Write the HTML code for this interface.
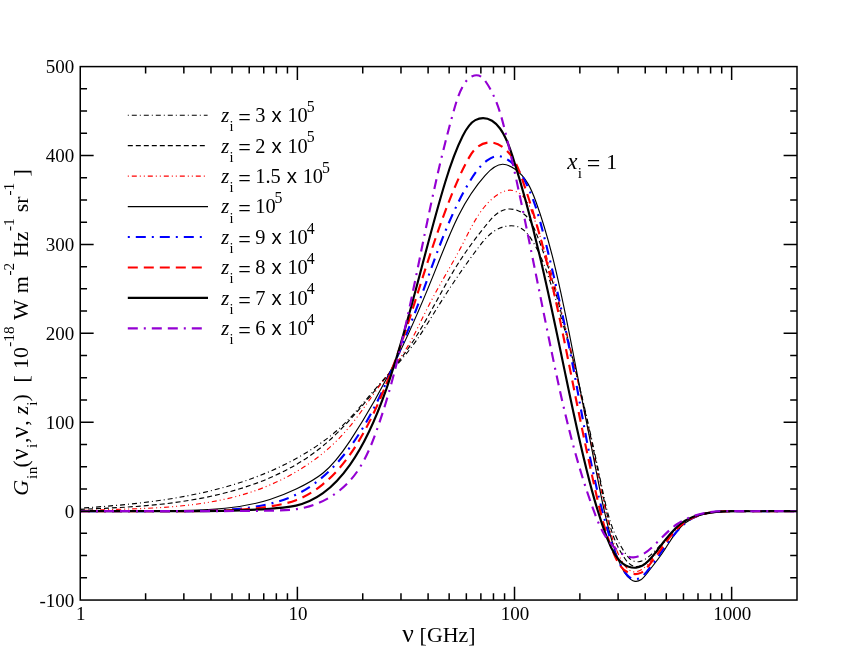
<!DOCTYPE html>
<html><head><meta charset="utf-8"><title>G_in</title>
<style>html,body{margin:0;padding:0;background:#fff;}svg{display:block;will-change:transform;}text{font-family:"Liberation Serif",serif;}</style></head>
<body>
<svg width="864" height="667" viewBox="0 0 864 667">
<rect width="864" height="667" fill="#fff"/>
<defs><clipPath id="cp"><rect x="80.25" y="66.6" width="716.75" height="533.45"/></clipPath></defs>
<g fill="none" clip-path="url(#cp)" stroke-linejoin="round">
<path d="M80.18 508.16C163.92 502.74 253.49 491.94 323.41 441.25C328.52 437.54 333.53 433.62 338.23 429.45C352.21 417.05 363.44 402.48 375.62 388.53C387.63 374.77 400.56 361.61 411.6 347.01C421.57 333.83 430 319.46 438.74 305.45C450.89 285.97 463.64 267.19 477.63 248.54C483.85 240.24 490.32 231.97 499.96 228.05C506.05 225.57 513.41 224.83 519.08 227.2C524.58 229.5 528.51 234.72 531.92 240.13C541.15 254.78 546.65 270.82 551.8 286.95C572.53 351.89 587.58 418.32 601.5 485.24C606.46 509.08 611.28 532.97 625.48 553.56C627.2 556.06 629.06 558.51 631.51 560.02C633.62 561.33 636.18 561.93 638.61 561.72C643.55 561.3 647.98 557.54 651.91 553.8C660.06 546.04 666.07 538.35 673.81 530.63C677.22 527.21 680.97 523.79 684.99 521.12C695.43 514.18 707.7 512.29 720 511.52C732.88 510.73 745.78 511.17 758.67 511.22C771.45 511.27 784.21 510.94 797 511.18" stroke="#000" stroke-width="1.15" stroke-dasharray="1 3 5 3"/>
<path d="M79.88 509.36C107.45 508.21 133.99 507.16 160.86 504.24C218.8 497.93 278.26 482.9 323.1 445.77C343.05 429.25 360.11 408.37 376.77 388.35C388.16 374.67 399.37 361.4 409.3 346.93C427.23 320.79 440.98 290.72 457.99 263.79C467.06 249.44 477.05 235.98 488.22 222.56C491.72 218.35 495.34 214.15 499.97 211.58C502.97 209.92 506.4 208.95 509.88 208.97C515.92 208.99 522.1 212 526.43 216.26C530.89 220.63 533.39 226.32 535.74 232.07C544.67 253.96 551.37 276.68 557.61 299.49C575.74 365.72 590 432.61 604.02 499.99C608.21 520.16 612.39 540.37 624.33 557.76C627.49 562.37 631.2 566.77 636.52 566.6C638.9 566.52 641.6 565.53 643.84 564.28C646.78 562.64 648.92 560.54 651.01 558.28C661.9 546.51 671.42 530.35 685.06 521.54C695.2 514.99 707.62 512.52 719.99 511.56C732.91 510.55 745.78 511.19 758.66 511.26C771.44 511.33 784.23 510.84 797 511.19" stroke="#000" stroke-width="1.15" stroke-dasharray="5 3"/>
<path d="M80.2 510.6C136.68 508.17 196.59 510.05 251.18 492.03C287.45 480.06 321.37 459.31 346.48 430.37C357.89 417.22 367.48 402.38 377.77 388.28C387.79 374.56 398.48 361.54 407.22 347.09C415.27 333.79 421.67 319.29 428.78 305.4C439.52 284.43 451.87 264.87 462.81 243.75C472.18 225.65 480.52 206.39 497.53 194.79C499.33 193.57 501.22 192.43 503.2 191.6C505.42 190.68 507.74 190.15 510.06 190.19C514.57 190.27 519.04 192.54 522.43 195.66C527.79 200.6 530.39 207.71 532.89 214.79C542.68 242.57 550.79 270.11 558.07 297.99C567.56 334.28 575.65 371.15 583.5 408.02C591.47 445.46 599.2 482.91 607.72 519.95C610.68 532.84 613.74 545.67 620.33 558.27C623.78 564.87 628.2 571.4 633.83 571.89C638.48 572.29 643.95 568.59 648.13 564.04C651.08 560.83 653.39 557.2 655.73 553.82C660.34 547.17 665.07 541.51 670.38 535.65C676.75 528.64 683.96 521.34 692.49 517.3C697.6 514.87 703.2 513.62 708.82 512.76C725.26 510.27 742.02 511.17 758.68 511.25C771.46 511.31 784.19 510.88 797 511.18" stroke="#f00" stroke-width="1.15" stroke-dasharray="1 3 5 3 1 3"/>
<path d="M79.99 510.98C113.07 511.04 145.93 511.12 179.01 510.52C209.76 509.95 240.7 508.79 269.88 499.45C278.8 496.59 287.57 492.97 296.18 488.92C305.73 484.44 315.09 479.45 323.08 472.95C333.9 464.16 342.2 452.61 350.05 440.81C386.77 385.6 413.67 325.03 437.89 263.89C450.22 232.76 461.85 201.49 485.21 175.34C490.34 169.6 496.03 164.1 502.8 164.27C506.77 164.37 511.11 166.42 514.81 168.98C526.3 176.9 531.59 189.64 536.22 202.44C543.32 222.09 548.86 241.86 553.79 261.8C563.1 299.44 570.24 337.67 577.52 375.97C585.15 416.1 592.93 456.3 601.07 495.92C605.5 517.49 610.04 538.88 618.5 560.4C621.42 567.83 624.8 575.28 630.62 579.36C631.98 580.32 633.48 581.09 635.03 581.32C636.99 581.62 639.05 581.06 640.89 579.84C643.34 578.22 645.41 575.44 647.41 572.84C653 565.55 657.99 559.65 662.61 552.78C669.39 542.71 675.39 530.56 685.06 523C689.55 519.49 694.84 516.97 700.27 515.18C715.92 510.04 732.75 511.03 749.36 511.22C765.29 511.4 781.02 510.83 797.01 511.2" stroke="#000" stroke-width="1.15"/>
<path d="M80.01 511.2C115.93 510.89 152.07 511.46 187.99 511.07C205.98 510.87 223.92 510.43 241.97 508.44C260.58 506.38 279.3 502.67 295.83 494.78C323.66 481.5 345.26 456.4 361.86 429.54C378.14 403.2 389.61 375.18 401.22 346.81C406.8 333.18 412.41 319.47 417.66 305.65C433.71 263.43 446.41 220.2 469.81 181.3C474.62 173.31 479.89 165.5 487.64 160.1C491.02 157.74 494.88 155.84 498.73 156.06C501.2 156.21 503.66 157.23 505.92 158.51C514.57 163.4 520.27 172.05 524.93 181.01C534.31 199.05 539.49 218.32 544.39 237.67C556.18 284.2 566.38 331.21 575.27 378.5C585.54 433.1 594.07 488.07 610.95 540.91C614.23 551.16 617.81 561.32 623.96 570.8C625.52 573.21 627.24 575.58 629.36 577.1C632.41 579.29 636.29 579.74 639.63 578.1C642.14 576.87 644.35 574.47 646.4 572.08C655.39 561.61 661.43 551.44 669.17 540.98C675.68 532.17 683.4 523.17 692.79 518.06C701 513.6 710.49 512.12 719.99 511.49C729.77 510.85 739.55 511.1 749.34 511.18C765.23 511.31 781.1 510.97 797 511.17" stroke="#00f" stroke-width="2.15" stroke-dasharray="2 6 10 6"/>
<path d="M80 511.16C113.01 511.12 145.99 511.19 179 511.14C209.41 511.09 239.83 510.95 269.99 506.38C278.86 505.04 287.71 503.32 296.06 500.16C305.73 496.5 314.73 490.92 322.79 484.35C340.79 469.71 354.16 450.2 365.22 429.77C372.49 416.34 378.75 402.52 384.51 388.49C412.05 321.37 427.93 249.47 456.67 182.8C460.36 174.24 464.26 165.77 469.01 157.59C470.75 154.61 472.6 151.66 475.02 149.21C479.03 145.15 484.61 142.48 490 142.47C498.32 142.45 506.17 148.8 511.46 156.14C515.97 162.4 518.62 169.39 521.15 176.41C546.36 246.26 559.99 319.35 574.65 392.38C581.16 424.76 587.87 457.13 595.03 488.9C599.64 509.33 604.43 529.5 612.53 550.36C616.01 559.35 620.11 568.46 627.7 572.3C631.7 574.32 636.66 574.87 640.74 572.9C643.85 571.4 646.45 568.42 648.87 565.45C654.37 558.71 658.99 551.98 663.89 545.16C670.02 536.61 676.57 527.91 685.14 522.06C689.76 518.92 694.96 516.6 700.3 514.95C715.98 510.09 732.78 511.05 749.36 511.22C765.29 511.39 781.02 510.84 797.01 511.19" stroke="#f00" stroke-width="2.15" stroke-dasharray="10 6"/>
<path d="M80 511.14C113.01 511.19 145.99 511.13 179 511.14C213.71 511.15 248.44 511.24 282.99 507.57C287.37 507.1 291.74 506.58 296.03 505.61C305.68 503.42 314.89 498.99 323 493.18C333.64 485.54 342.39 475.52 349.94 464.87C366.39 441.64 377.17 415.42 386.51 388.67C410.14 320.99 424.53 249.96 445.27 181.98C449.98 166.56 455.01 151.29 462.7 136C465.95 129.54 469.68 123.06 475.3 120.11C480.31 117.48 486.82 117.65 492.01 120.71C495.13 122.55 497.78 125.45 500.03 128.51C506.19 136.88 509.41 146.53 512.49 156.19C535.5 228.45 550.45 302.02 565.75 376.08C573.72 414.66 581.79 453.37 592.03 490.89C596.39 506.88 601.15 522.65 607.41 538.94C611.05 548.43 615.2 558.09 622.86 563.61C626.75 566.4 631.53 568.13 636.1 567.68C638.18 567.48 640.21 566.82 642.11 565.82C647.86 562.8 652.46 556.63 656.69 551.04C659.14 547.8 661.46 544.75 663.85 541.68C669.98 533.83 676.56 525.81 685.06 520.67C689.69 517.86 694.9 515.91 700.19 514.51C716.14 510.28 732.81 511.06 749.35 511.21C765.26 511.35 781.05 510.9 797.01 511.19" stroke="#000" stroke-width="2.15"/>
<path d="M80 511.16C121.98 511.1 164.02 511.21 206 511.13C227.33 511.09 248.64 511 270.07 510.66C281.84 510.47 293.66 510.21 305.02 507.49C322.33 503.34 338.59 493.5 350.37 480.24C362.81 466.24 370.24 448.43 376.66 430.49C386.52 402.95 393.98 375.1 400.64 346.99C410.4 305.81 418.42 264.09 427.1 222.47C435.18 183.79 443.83 145.2 454.7 107.57C456.77 100.4 458.92 93.26 462.8 86.29C465.16 82.03 468.17 77.84 472.2 76.14C475.05 74.94 478.41 74.99 480.99 76.55C482.83 77.67 484.27 79.57 485.61 81.51C496.34 96.97 501.14 115.04 505.57 133.1C513.2 164.13 519.75 195.1 526.14 226.23C533.98 264.41 541.58 302.82 549.41 341.06C561.11 398.2 573.35 454.95 593.57 510.24C598.91 524.83 604.8 539.32 616.61 549.56C621.6 553.89 627.66 557.46 633.58 557.31C641.35 557.12 648.86 550.51 655.45 544.06C663.04 536.62 669.4 529.39 677.29 523.99C686.71 517.56 698.32 513.74 710.02 512.15C719.97 510.8 729.99 511.06 740 511.16C759.01 511.35 777.99 510.94 797 511.18" stroke="#9400d3" stroke-width="2.15" stroke-dasharray="10 6 2 6 10 6"/>
</g>
<path d="M145.61 600.05v-6.8M145.61 66.6v6.8M183.85 600.05v-6.8M183.85 66.6v6.8M210.97 600.05v-6.8M210.97 66.6v6.8M232.02 600.05v-6.8M232.02 66.6v6.8M249.21 600.05v-6.8M249.21 66.6v6.8M263.75 600.05v-6.8M263.75 66.6v6.8M276.34 600.05v-6.8M276.34 66.6v6.8M287.44 600.05v-6.8M287.44 66.6v6.8M297.38 600.05v-13.4M297.38 66.6v13.4M362.74 600.05v-6.8M362.74 66.6v6.8M400.98 600.05v-6.8M400.98 66.6v6.8M428.1 600.05v-6.8M428.1 66.6v6.8M449.15 600.05v-6.8M449.15 66.6v6.8M466.34 600.05v-6.8M466.34 66.6v6.8M480.87 600.05v-6.8M480.87 66.6v6.8M493.47 600.05v-6.8M493.47 66.6v6.8M504.57 600.05v-6.8M504.57 66.6v6.8M514.51 600.05v-13.4M514.51 66.6v13.4M579.87 600.05v-6.8M579.87 66.6v6.8M618.11 600.05v-6.8M618.11 66.6v6.8M645.23 600.05v-6.8M645.23 66.6v6.8M666.28 600.05v-6.8M666.28 66.6v6.8M683.47 600.05v-6.8M683.47 66.6v6.8M698 600.05v-6.8M698 66.6v6.8M710.6 600.05v-6.8M710.6 66.6v6.8M721.7 600.05v-6.8M721.7 66.6v6.8M731.64 600.05v-13.4M731.64 66.6v13.4M80.25 577.82h6.8M797 577.82h-6.8M80.25 555.6h6.8M797 555.6h-6.8M80.25 533.37h6.8M797 533.37h-6.8M80.25 511.14h13.4M797 511.14h-13.4M80.25 488.91h6.8M797 488.91h-6.8M80.25 466.69h6.8M797 466.69h-6.8M80.25 444.46h6.8M797 444.46h-6.8M80.25 422.23h13.4M797 422.23h-13.4M80.25 400.01h6.8M797 400.01h-6.8M80.25 377.78h6.8M797 377.78h-6.8M80.25 355.55h6.8M797 355.55h-6.8M80.25 333.32h13.4M797 333.32h-13.4M80.25 311.1h6.8M797 311.1h-6.8M80.25 288.87h6.8M797 288.87h-6.8M80.25 266.64h6.8M797 266.64h-6.8M80.25 244.42h13.4M797 244.42h-13.4M80.25 222.19h6.8M797 222.19h-6.8M80.25 199.96h6.8M797 199.96h-6.8M80.25 177.74h6.8M797 177.74h-6.8M80.25 155.51h13.4M797 155.51h-13.4M80.25 133.28h6.8M797 133.28h-6.8M80.25 111.05h6.8M797 111.05h-6.8M80.25 88.83h6.8M797 88.83h-6.8" stroke="#000" stroke-width="1.5" fill="none"/>
<rect x="80.25" y="66.6" width="716.75" height="533.45" fill="none" stroke="#000" stroke-width="1.5"/>
<g font-family="Liberation Serif, serif" font-size="19" fill="#000">
<text x="74.3" y="606.65" text-anchor="end">-100</text>
<text x="74.3" y="517.74" text-anchor="end">0</text>
<text x="74.3" y="428.83" text-anchor="end">100</text>
<text x="74.3" y="339.93" text-anchor="end">200</text>
<text x="74.3" y="251.02" text-anchor="end">300</text>
<text x="74.3" y="162.11" text-anchor="end">400</text>
<text x="74.3" y="73.2" text-anchor="end">500</text>
<text x="80.75" y="620.4" text-anchor="middle">1</text>
<text x="297.88" y="620.4" text-anchor="middle">10</text>
<text x="515.01" y="620.4" text-anchor="middle">100</text>
<text x="732.14" y="620.4" text-anchor="middle">1000</text>
</g>
<g font-family="Liberation Serif, serif" font-size="21.9" fill="#000">
<text y="642"><tspan x="402.3" font-size="25.6">ν</tspan><tspan x="419.6">[GHz]</tspan></text>
<text transform="translate(28.2 495.2) rotate(-90)"><tspan x="-0.68" y="0" font-style="italic">G</tspan><tspan x="16.15" y="8.3" font-size="15.3">i</tspan><tspan x="21.03" y="8.3" font-size="15.3">n</tspan><tspan x="27.78" y="0">(</tspan><tspan x="35.2" y="0" font-size="25.3">ν</tspan><tspan x="47.15" y="8.3" font-size="15.3">i</tspan><tspan x="52.18" y="0">,</tspan><tspan x="57.25" y="0" font-size="25.3">ν</tspan><tspan x="69.5" y="0">,</tspan><tspan x="80.75" y="0" font-style="italic">z</tspan><tspan x="89.38" y="8.3" font-size="15.3">i</tspan><tspan x="93.63" y="0">)</tspan><tspan x="112.68" y="0">[</tspan><tspan x="126.18" y="0">10</tspan><tspan x="148.48" y="-13.8" font-size="15.3">-18</tspan><tspan x="175.18" y="0">W</tspan><tspan x="202" y="0">m</tspan><tspan x="219.7" y="-13.8" font-size="15.3">-2</tspan><tspan x="238.08" y="0">Hz</tspan><tspan x="264.18" y="-13.8" font-size="15.3">-1</tspan><tspan x="283.05" y="0">sr</tspan><tspan x="299.63" y="-13.8" font-size="15.3">-1</tspan><tspan x="318.68" y="0">]</tspan></text>
</g>
<g font-family="Liberation Serif, serif" font-size="20.4" fill="#000">
<path d="M127.8 115.2H207.6" fill="none" stroke="#000" stroke-width="1.15" stroke-dasharray="1 3 5 3"/>
<text x="221.3" y="122.1" xml:space="preserve"><tspan font-style="italic">z</tspan><tspan font-size="14.5" dy="9.1" dx="0.3">i</tspan><tspan dy="-6.4" dx="4.6" font-size="22.3">=</tspan><tspan dy="-2.7" dx="4.5">3</tspan><tspan font-family="Liberation Sans, sans-serif" dx="0.4"> x </tspan>10<tspan font-size="15.8" dy="-10.4" dx="-1.1">5</tspan></text>
<path d="M127.8 145.65H207.6" fill="none" stroke="#000" stroke-width="1.15" stroke-dasharray="5 3"/>
<text x="221.3" y="152.55" xml:space="preserve"><tspan font-style="italic">z</tspan><tspan font-size="14.5" dy="9.1" dx="0.3">i</tspan><tspan dy="-6.4" dx="4.6" font-size="22.3">=</tspan><tspan dy="-2.7" dx="4.5">2</tspan><tspan font-family="Liberation Sans, sans-serif" dx="0.4"> x </tspan>10<tspan font-size="15.8" dy="-10.4" dx="-1.1">5</tspan></text>
<path d="M127.8 176.1H207.6" fill="none" stroke="#f00" stroke-width="1.15" stroke-dasharray="1 3 5 3 1 3"/>
<text x="221.3" y="183" xml:space="preserve"><tspan font-style="italic">z</tspan><tspan font-size="14.5" dy="9.1" dx="0.3">i</tspan><tspan dy="-6.4" dx="4.6" font-size="22.3">=</tspan><tspan dy="-2.7" dx="4.5">1.5</tspan><tspan font-family="Liberation Sans, sans-serif" dx="0.4"> x </tspan>10<tspan font-size="15.8" dy="-10.4" dx="-1.1">5</tspan></text>
<path d="M127.8 206.55H208" fill="none" stroke="#000" stroke-width="1.15"/>
<text x="221.3" y="213.45" xml:space="preserve"><tspan font-style="italic">z</tspan><tspan font-size="14.5" dy="9.1" dx="0.3">i</tspan><tspan dy="-6.4" dx="4.6" font-size="22.3">=</tspan><tspan dy="-2.7" dx="4.5">10</tspan><tspan font-size="15.8" dy="-10.4" dx="-1.1">5</tspan></text>
<path d="M127.8 237H207.6" fill="none" stroke="#00f" stroke-width="2.15" stroke-dasharray="2 6 10 6"/>
<text x="221.3" y="243.9" xml:space="preserve"><tspan font-style="italic">z</tspan><tspan font-size="14.5" dy="9.1" dx="0.3">i</tspan><tspan dy="-6.4" dx="4.6" font-size="22.3">=</tspan><tspan dy="-2.7" dx="4.5">9</tspan><tspan font-family="Liberation Sans, sans-serif" dx="0.4"> x </tspan>10<tspan font-size="15.8" dy="-10.4" dx="-1.1">4</tspan></text>
<path d="M127.8 267.45H207.6" fill="none" stroke="#f00" stroke-width="2.15" stroke-dasharray="10 6"/>
<text x="221.3" y="274.35" xml:space="preserve"><tspan font-style="italic">z</tspan><tspan font-size="14.5" dy="9.1" dx="0.3">i</tspan><tspan dy="-6.4" dx="4.6" font-size="22.3">=</tspan><tspan dy="-2.7" dx="4.5">8</tspan><tspan font-family="Liberation Sans, sans-serif" dx="0.4"> x </tspan>10<tspan font-size="15.8" dy="-10.4" dx="-1.1">4</tspan></text>
<path d="M127.8 297.9H208" fill="none" stroke="#000" stroke-width="2.15"/>
<text x="221.3" y="304.8" xml:space="preserve"><tspan font-style="italic">z</tspan><tspan font-size="14.5" dy="9.1" dx="0.3">i</tspan><tspan dy="-6.4" dx="4.6" font-size="22.3">=</tspan><tspan dy="-2.7" dx="4.5">7</tspan><tspan font-family="Liberation Sans, sans-serif" dx="0.4"> x </tspan>10<tspan font-size="15.8" dy="-10.4" dx="-1.1">4</tspan></text>
<path d="M127.8 328.35H207.6" fill="none" stroke="#9400d3" stroke-width="2.15" stroke-dasharray="10 6 2 6 10 6"/>
<text x="221.3" y="335.25" xml:space="preserve"><tspan font-style="italic">z</tspan><tspan font-size="14.5" dy="9.1" dx="0.3">i</tspan><tspan dy="-6.4" dx="4.6" font-size="22.3">=</tspan><tspan dy="-2.7" dx="4.5">6</tspan><tspan font-family="Liberation Sans, sans-serif" dx="0.4"> x </tspan>10<tspan font-size="15.8" dy="-10.4" dx="-1.1">4</tspan></text>
</g>
<text font-family="Liberation Serif, serif" font-size="21.9"><tspan x="567.2" y="168.9" font-style="italic" font-size="23">x</tspan><tspan x="577.85" y="177.5" font-size="15.3">i</tspan><tspan x="586.8" y="171" font-size="24">=</tspan><tspan x="606.2" y="168.9">1</tspan></text>
</svg>
</body></html>
